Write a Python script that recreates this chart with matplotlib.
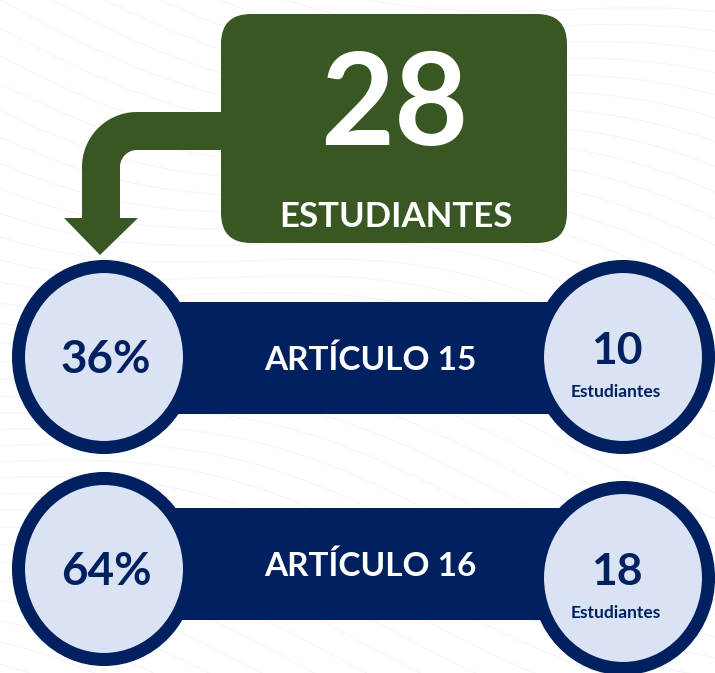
import numpy as np
import matplotlib
matplotlib.use("Agg")
import matplotlib.pyplot as plt
from matplotlib.patches import FancyBboxPatch, Ellipse, Rectangle, Polygon

# ---- data ----
total_students = 28
total_label = "ESTUDIANTES"
articles = ["ARTÍCULO 15", "ARTÍCULO 16"]
students = [10, 18]
percentages = [36, 64]
unit_label = "Estudiantes"

# ---- style ----
GREEN = "#385723"
NAVY = "#002060"
LIGHT = "#DAE3F3"
FONT = ["Lato", "DejaVu Sans"]

W, H = 715, 673
fig = plt.figure(figsize=(W / 100, H / 100), dpi=100)
ax = fig.add_axes([0, 0, 1, 1])
ax.set_xlim(0, W)
ax.set_ylim(H, 0)
ax.set_aspect("equal")
ax.axis("off")
fig.patch.set_facecolor("white")

# faint decorative background waves
xs = np.linspace(0, W, 300)
for k in range(-20, 40):
    ys = k * 22 + 40 * np.sin(xs / 140.0 + k * 0.15) + xs * 0.25
    ax.plot(xs, ys, color="#F5F5F5", lw=0.8, zorder=0)

# green total box
ax.add_patch(FancyBboxPatch((221 + 30, 14 + 30), 346 - 60, 229 - 60,
                            boxstyle="round,pad=30", fc=GREEN, ec="none", zorder=2))
ax.text(394, 108, str(total_students), color="white", fontsize=92, fontweight="bold",
        family=FONT, ha="center", va="center", zorder=3)
ax.text(396, 217, total_label, color="white", fontsize=25, fontweight="bold",
        family=FONT, ha="center", va="center", zorder=3)

# bent arrow
Ro, Ri = 55, 17
cx, cy = 82 + Ro, 112 + Ro
pts = [(225, 112), (cx, 112)]
for a in np.linspace(-np.pi / 2, -np.pi, 30):
    pts.append((cx + Ro * np.cos(a), cy + Ro * np.sin(a)))
pts += [(82, 218), (64, 218), (100, 255), (138, 218), (120, 218), (120, cy)]
for a in np.linspace(-np.pi, -np.pi / 2, 30):
    pts.append((cx + Ri * np.cos(a), cy + Ri * np.sin(a)))
pts += [(225, 150)]
ax.add_patch(Polygon(pts, closed=True, fc=GREEN, ec="none", zorder=2))

# rows
band_y = [358, 564]
left_y = [357, 569]
right_y = [357, 578]
for i, (art, n, p) in enumerate(zip(articles, students, percentages)):
    y = band_y[i]
    ax.add_patch(Rectangle((150, y - 56), 420, 112, fc=NAVY, ec="none", zorder=2))
    for x, yc in ((104, left_y[i]), (623, right_y[i])):
        ax.add_patch(Ellipse((x, yc), 171, 181, fc=LIGHT, ec=NAVY, lw=9.4, zorder=3))
    ax.text(106, left_y[i] + 3, f"{p}%", color=NAVY, fontsize=33, fontweight="bold",
            family=FONT, ha="center", va="center", zorder=4)
    ax.text(370, y + 2, art, color="white", fontsize=24, fontweight="bold",
            family=FONT, ha="center", va="center", zorder=4)
    ax.text(617, right_y[i] - 6, str(n), color=NAVY, fontsize=32, fontweight="bold",
            family=FONT, ha="center", va="center", zorder=4)
    ax.text(616, right_y[i] + 35, unit_label, color=NAVY, fontsize=12.5, fontweight="bold",
            family=FONT, ha="center", va="center", zorder=4)

fig.savefig("out.png", dpi=100, facecolor="white")
